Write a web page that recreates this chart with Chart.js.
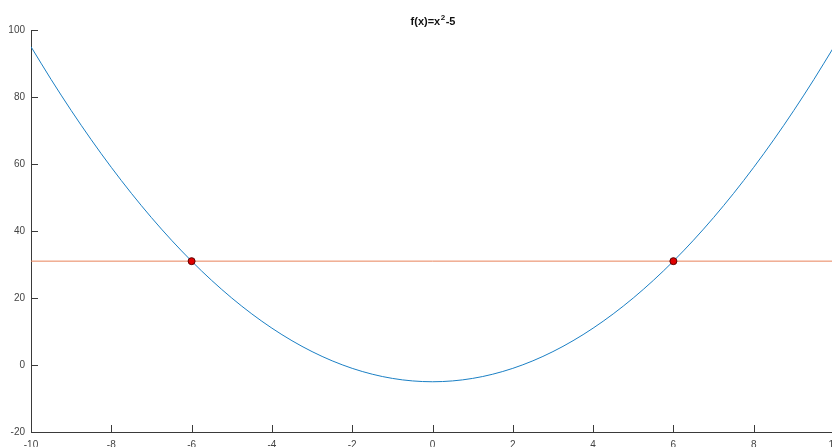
<!DOCTYPE html>
<html>
<head>
<meta charset="utf-8">
<script src="https://cdn.jsdelivr.net/npm/chart.js@4/dist/chart.umd.min.js"></script>
<style>
html,body{margin:0;padding:0;background:#fff;overflow:hidden;}
#wrap{width:839px;height:447px;}
</style>
</head>
<body>
<div id="wrap"><canvas id="c" width="839" height="447"></canvas></div>
<script>
const curveX = [-10,-9.5,-9,-8.5,-8,-7.5,-7,-6.5,-6,-5.5,-5,-4.5,-4,-3.5,-3,-2.5,-2,-1.5,-1,-0.5,0,0.5,1,1.5,2,2.5,3,3.5,4,4.5,5,5.5,6,6.5,7,7.5,8,8.5,9,9.5,10];
const curveY = [95,85.25,76,67.25,59,51.25,44,37.25,31,25.25,20,15.25,11,7.25,4,1.25,-1,-2.75,-4,-4.75,-5,-4.75,-4,-2.75,-1,1.25,4,7.25,11,15.25,20,25.25,31,37.25,44,51.25,59,67.25,76,85.25,95];
const lineX = [-10, 10];
const lineY = [31, 31];
const pointX = [-6, 6];
const pointY = [31, 31];
const xTicks = [-10,-8,-6,-4,-2,0,2,4,6,8,10];
const yTicks = [-20,0,20,40,60,80,100];
const titleParts = ['f(x)=x', '2', '-5'];

const FONT = 'Arial, "Liberation Sans", Helvetica, sans-serif';
const AXIS = '#3a3a3a';
const LABEL = '#444444';

const zip = (xs, ys) => xs.map((x, i) => ({x, y: ys[i]}));

const innerTicks = {
  id: 'innerTicks',
  afterDraw(chart) {
    const {ctx, chartArea, scales} = chart;
    ctx.save();
    ctx.strokeStyle = AXIS;
    ctx.lineWidth = 1;
    ctx.beginPath();
    xTicks.forEach(v => {
      const px = Math.round(scales.x.getPixelForValue(v)) + 0.5;
      ctx.moveTo(px, chartArea.bottom);
      ctx.lineTo(px, chartArea.bottom - 7);
    });
    yTicks.forEach(v => {
      const py = Math.round(scales.y.getPixelForValue(v)) + 0.5;
      ctx.moveTo(chartArea.left, py);
      ctx.lineTo(chartArea.left + 7, py);
    });
    ctx.stroke();
    // title with superscript
    const cx = (chartArea.left + chartArea.right) / 2;
    const big = 'bold 11px ' + FONT;
    const small = 'bold 8px ' + FONT;
    ctx.font = big; const w0 = ctx.measureText(titleParts[0]).width; const w2 = ctx.measureText(titleParts[2]).width;
    ctx.font = small; const w1 = ctx.measureText(titleParts[1]).width;
    let x = cx - (w0 + w1 + w2) / 2;
    const base = 25;
    ctx.fillStyle = '#111';
    ctx.textBaseline = 'alphabetic';
    ctx.textAlign = 'left';
    ctx.font = big; ctx.fillText(titleParts[0], x, base); x += w0;
    ctx.font = small; ctx.fillText(titleParts[1], x + 0.5, base - 5); x += w1 + 1;
    ctx.font = big; ctx.fillText(titleParts[2], x, base);
    ctx.restore();
  }
};

new Chart(document.getElementById('c'), {
  type: 'scatter',
  data: {
    datasets: [
      {
        data: zip(pointX, pointY),
        showLine: false,
        pointRadius: 3.5,
        pointBackgroundColor: '#e00000',
        pointBorderColor: '#5a0000',
        pointBorderWidth: 1,
        order: 0
      },
      {
        data: zip(curveX, curveY),
        showLine: true,
        borderColor: '#1a7fc4',
        borderWidth: 1,
        pointRadius: 0,
        cubicInterpolationMode: 'monotone',
        order: 2
      },
      {
        data: zip(lineX, lineY),
        showLine: true,
        borderColor: '#E8825A',
        borderWidth: 1,
        pointRadius: 0,
        order: 1
      }
    ]
  },
  options: {
    responsive: false,
    animation: false,
    devicePixelRatio: 1,
    layout: { padding: { top: 30, right: 2, left: 0, bottom: 0 } },
    plugins: { legend: { display: false }, tooltip: { enabled: false }, title: { display: false } },
    scales: {
      x: {
        type: 'linear', min: -10, max: 10,
        afterBuildTicks: s => { s.ticks = xTicks.map(v => ({value: v})); },
        afterFit: s => { s.height = 15; s.paddingLeft = 0; s.paddingRight = 0; },
        grid: { display: false, drawTicks: false },
        border: { display: true, color: AXIS, width: 1 },
        ticks: { color: LABEL, font: { family: FONT, size: 10 }, padding: 7, maxRotation: 0, autoSkip: false }
      },
      y: {
        type: 'linear', min: -20, max: 100,
        afterBuildTicks: s => { s.ticks = yTicks.map(v => ({value: v})); },
        afterFit: s => { s.width = 31; s.paddingTop = 0; s.paddingBottom = 0; },
        grid: { display: false, drawTicks: false },
        border: { display: true, color: AXIS, width: 1 },
        ticks: { color: LABEL, font: { family: FONT, size: 10 }, padding: 6, autoSkip: false }
      }
    }
  },
  plugins: [innerTicks]
});
</script>
</body>
</html>
